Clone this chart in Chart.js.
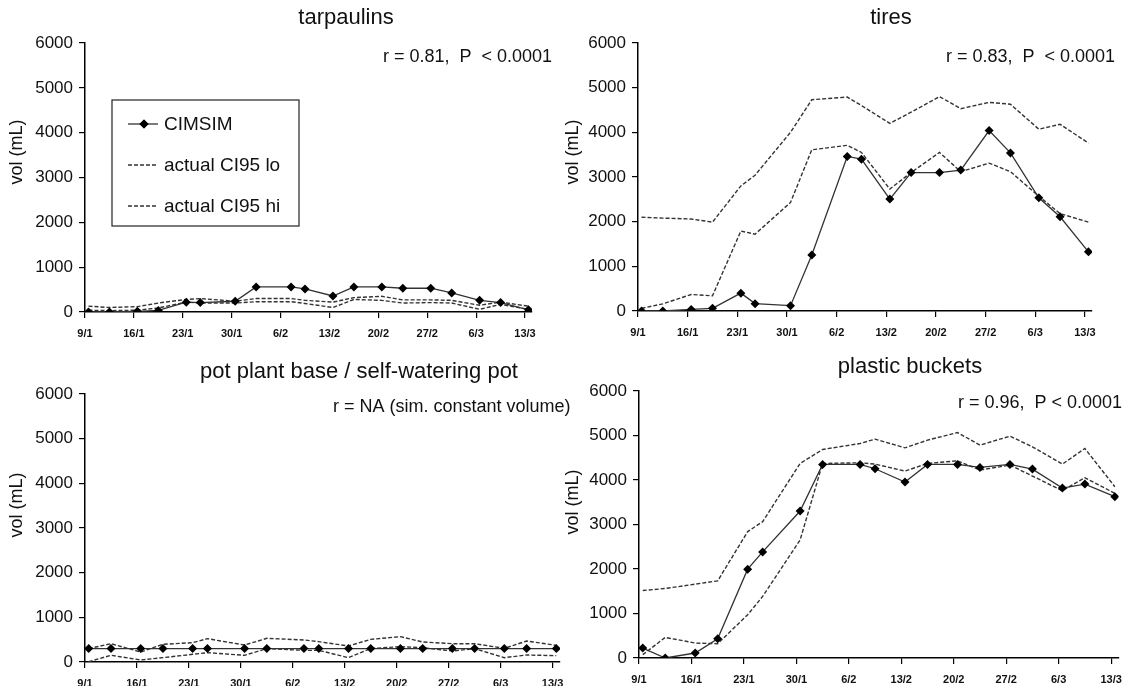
<!DOCTYPE html>
<html>
<head>
<meta charset="utf-8">
<script src="https://cdn.jsdelivr.net/npm/chart.js@4.4.1/dist/chart.umd.min.js"></script>
<style>
  body { margin: 0; background: #fff; }
  #wrap { position: relative; width: 1131px; height: 686px; }
  #wrap canvas { position: absolute; left: 0; top: 0; }
</style>
</head>
<body>
<div id="wrap">
  <canvas id="c1" width="1131" height="686"></canvas>
  <canvas id="c2" width="1131" height="686"></canvas>
  <canvas id="c3" width="1131" height="686"></canvas>
  <canvas id="c4" width="1131" height="686"></canvas>
</div>
<script>
// sampling dates, in days after 9/1
const sampleDays = [0.5, 3.5, 7.5, 10.5, 14.5, 16.5, 21.5, 24.5, 29.5, 31.5, 35.5, 38.5, 42.5, 45.5, 49.5, 52.5, 56.5, 59.5, 63.5];
const tickDays = [0, 7, 14, 21, 28, 35, 42, 49, 56, 63];
const tickLabels = ['9/1', '16/1', '23/1', '30/1', '6/2', '13/2', '20/2', '27/2', '6/3', '13/3'];

const tarpSim = [0, 0, 15, 35, 220, 210, 240, 560, 560, 515, 357, 560, 560, 530, 530, 424, 260, 210, 50];
const tarpLo  = [40, 30, 40, 90, 220, 200, 200, 230, 230, 190, 100, 280, 260, 200, 210, 200, 60, 170, 60];
const tarpHi  = [130, 100, 120, 200, 280, 300, 240, 300, 300, 260, 220, 320, 350, 270, 270, 260, 150, 220, 130];

const tiresSim = [0, 0, 35, 60, 400, 165, 120, 1256, 3460, 3400, 2505, 3100, 3100, 3156, 4040, 3540, 2535, 2110, 1324];
const tiresLo  = [60, 160, 370, 340, 1790, 1720, 2430, 3610, 3710, 3550, 2730, 3100, 3550, 3120, 3310, 3120, 2570, 2180, 1990];
const tiresHi  = [2100, 2080, 2060, 1990, 2800, 3040, 4000, 4730, 4790, 4600, 4200, 4450, 4800, 4530, 4670, 4630, 4070, 4180, 3760];

const potSim = [300, 300, 300, 300, 300, 300, 300, 300, 300, 300, 300, 300, 300, 300, 300, 300, 300, 300, 300];
const potLo  = [7, 150, 45, 97, 172, 209, 150, 300, 261, 261, 97, 300, 343, 321, 246, 300, 97, 157, 142];
const potHi  = [300, 410, 224, 396, 433, 522, 380, 530, 493, 455, 358, 507, 567, 448, 410, 410, 306, 470, 373];

const bucketSim = [224, 0, 112, 433, 1996, 2384, 3303, 4350, 4350, 4253, 3954, 4350, 4350, 4283, 4350, 4245, 3819, 3909, 3625];
const bucketLo  = [75, 463, 336, 321, 972, 1383, 2653, 4372, 4387, 4357, 4200, 4372, 4432, 4223, 4335, 4088, 3759, 4050, 3700];
const bucketHi  = [1517, 1562, 1659, 1734, 2840, 3064, 4372, 4686, 4820, 4918, 4723, 4895, 5067, 4783, 4985, 4746, 4357, 4708, 3849];

const FONT = 'Liberation Sans, Arial, Helvetica, sans-serif';
const YAXIS_W = 60, XAXIS_H = 30;

function pts(vals) {
  return sampleDays.map((d, i) => ({ x: d, y: vals[i] }));
}

// titles, r/P note, y title and (optional) legend box drawn on top
const panelText = {
  id: 'panelText',
  afterDraw(chart) {
    const o = chart.options.plugins.panelText;
    const ctx = chart.ctx;
    ctx.save();
    ctx.fillStyle = '#111';
    ctx.textBaseline = 'middle';
    ctx.font = '22px ' + FONT;
    ctx.textAlign = 'center';
    ctx.fillText(o.title, o.titleX, o.titleY);
    ctx.font = '18px ' + FONT;
    ctx.textAlign = o.noteAlign;
    ctx.fillText(o.note, o.noteX, o.noteY);
    ctx.save();
    ctx.translate(o.yTitleX, o.yTitleY);
    ctx.rotate(-Math.PI / 2);
    ctx.textAlign = 'center';
    ctx.font = '18px ' + FONT;
    ctx.fillText('vol (mL)', 0, 0);
    ctx.restore();

    if (o.legend) {
      const L = o.legend;
      ctx.strokeStyle = '#222';
      ctx.lineWidth = 1.2;
      ctx.strokeRect(L.x, L.y, L.w, L.h);
      ctx.font = '19px ' + FONT;
      ctx.textAlign = 'left';
      chart.data.datasets.forEach((ds, i) => {
        const yy = L.y + L.first + i * L.gap;
        ctx.beginPath();
        ctx.setLineDash(ds.borderDash || []);
        ctx.strokeStyle = ds.borderColor;
        ctx.lineWidth = ds.borderWidth;
        ctx.moveTo(L.x + 16, yy);
        ctx.lineTo(L.x + 46, yy);
        ctx.stroke();
        ctx.setLineDash([]);
        if (ds.pointRadius > 0) {
          Chart.helpers.drawPoint(ctx, { pointStyle: 'rectRot', radius: ds.pointRadius, borderWidth: 0 }, L.x + 32, yy);
          ctx.fillStyle = '#000';
          ctx.fill();
        }
        ctx.fillStyle = '#111';
        ctx.fillText(ds.label, L.x + 52, yy + 1);
      });
    }
    ctx.restore();
  }
};

function makePanel(id, area, sim, lo, hi, text) {
  return new Chart(document.getElementById(id), {
    type: 'line',
    data: {
      datasets: [
        {
          label: 'CIMSIM', data: pts(sim),
          borderColor: '#333', borderWidth: 1.3,
          pointStyle: 'rectRot', pointRadius: 4.5,
          pointBackgroundColor: '#000', pointBorderColor: '#000', pointBorderWidth: 0
        },
        {
          label: 'actual CI95 lo', data: pts(lo),
          borderColor: '#333', borderWidth: 1.4, borderDash: [4, 2], pointRadius: 0
        },
        {
          label: 'actual CI95 hi', data: pts(hi),
          borderColor: '#333', borderWidth: 1.4, borderDash: [4, 2], pointRadius: 0
        }
      ]
    },
    options: {
      responsive: false,
      animation: false,
      events: [],
      layout: {
        padding: {
          left: area.left - YAXIS_W,
          right: 1131 - area.right,
          top: area.top,
          bottom: 686 - area.bottom - XAXIS_H
        }
      },
      plugins: {
        legend: { display: false },
        tooltip: { enabled: false },
        panelText: text
      },
      scales: {
        x: {
          type: 'linear', min: 0, max: 64,
          afterBuildTicks: s => { s.ticks = tickDays.map(v => ({ value: v })); },
          afterFit: s => { s.height = XAXIS_H; },
          ticks: {
            autoSkip: false, maxRotation: 0, padding: 9, color: '#111',
            font: { family: FONT, size: 11, weight: 'bold' },
            callback: (v, i) => tickLabels[i]
          },
          grid: { drawOnChartArea: false, tickLength: 6, color: '#000', lineWidth: 1.2 },
          border: { color: '#000', width: 1.5 }
        },
        y: {
          min: 0, max: 6000,
          afterFit: s => { s.width = YAXIS_W; },
          ticks: {
            stepSize: 1000, padding: 6, color: '#111',
            font: { family: FONT, size: 17 },
            callback: v => String(v)
          },
          grid: { drawOnChartArea: false, tickLength: 6, color: '#000', lineWidth: 1.2 },
          border: { color: '#000', width: 1.5 }
        }
      }
    },
    plugins: [panelText]
  });
}

makePanel('c1', { left: 85, right: 532, top: 43, bottom: 312 }, tarpSim, tarpLo, tarpHi, {
  title: 'tarpaulins', titleX: 346, titleY: 18,
  note: 'r = 0.81,  P  < 0.0001', noteAlign: 'right', noteX: 552, noteY: 57,
  yTitleX: 17, yTitleY: 152,
  legend: { x: 112, y: 100, w: 187, h: 126, first: 24, gap: 41 }
});
makePanel('c2', { left: 638, right: 1092, top: 43, bottom: 311 }, tiresSim, tiresLo, tiresHi, {
  title: 'tires', titleX: 891, titleY: 18,
  note: 'r = 0.83,  P  < 0.0001', noteAlign: 'right', noteX: 1115, noteY: 57,
  yTitleX: 573, yTitleY: 152
});
makePanel('c3', { left: 85, right: 560, top: 394, bottom: 662 }, potSim, potLo, potHi, {
  title: 'pot plant base / self-watering pot', titleX: 359, titleY: 372,
  note: 'r = NA (sim. constant volume)', noteAlign: 'left', noteX: 333, noteY: 407,
  yTitleX: 17, yTitleY: 505
});
makePanel('c4', { left: 639, right: 1119, top: 391, bottom: 658 }, bucketSim, bucketLo, bucketHi, {
  title: 'plastic buckets', titleX: 910, titleY: 367,
  note: 'r = 0.96,  P < 0.0001', noteAlign: 'right', noteX: 1122, noteY: 403,
  yTitleX: 573, yTitleY: 502
});
</script>
</body>
</html>
